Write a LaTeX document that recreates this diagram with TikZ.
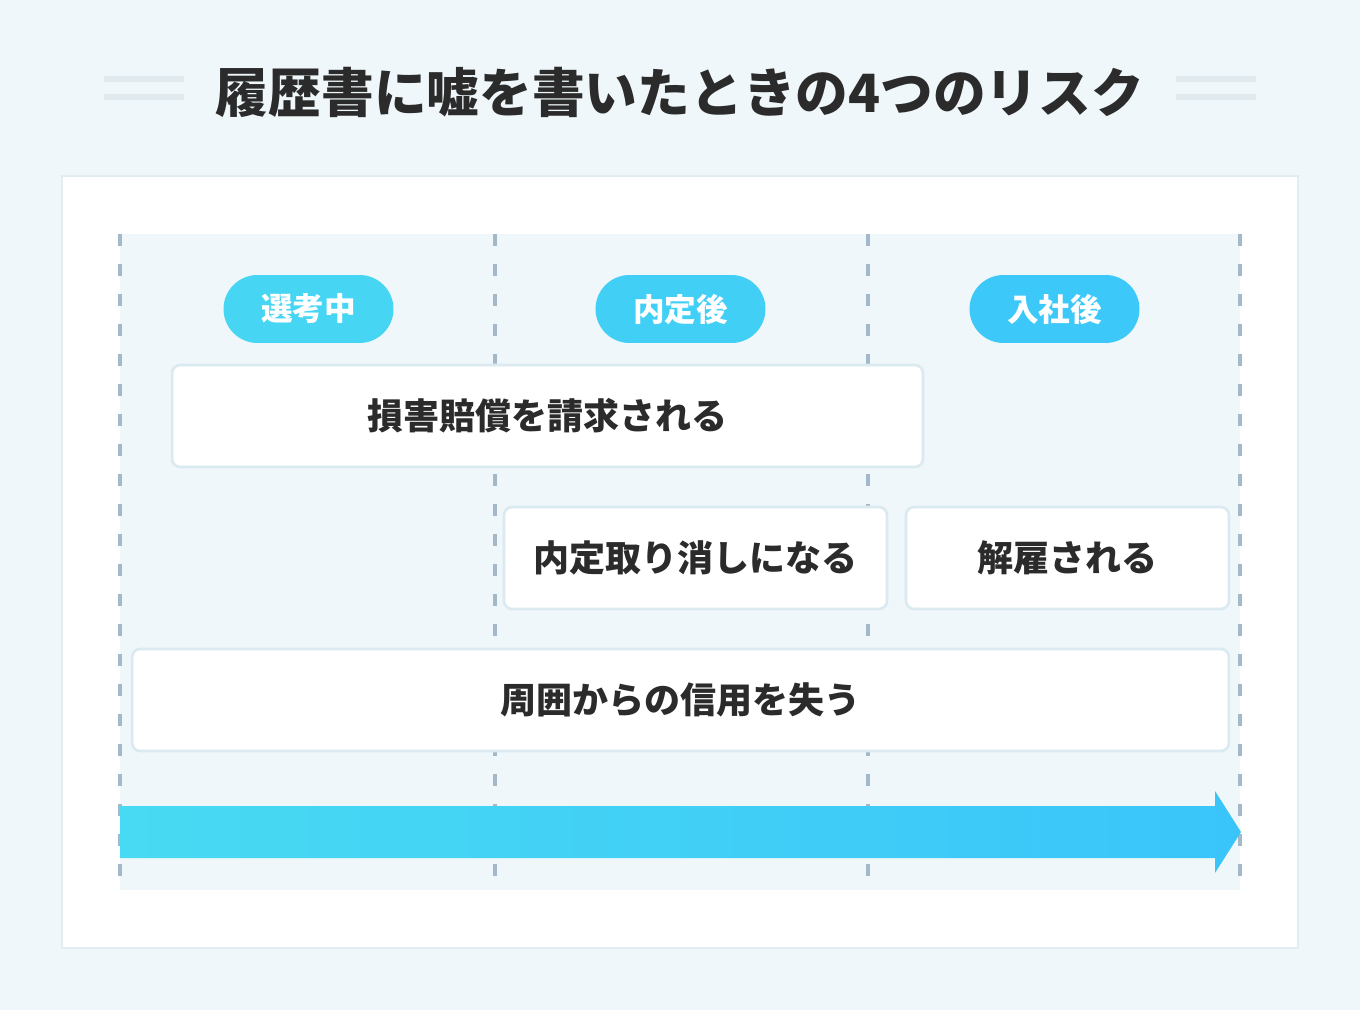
\documentclass[tikz,border=0pt]{standalone}
\usepackage{fontspec}
\newfontfamily\jpfont{Noto Sans CJK JP}
\definecolor{pagebg}{HTML}{EFF7FA}
\definecolor{panelline}{HTML}{E2EDF2}
\definecolor{boxline}{HTML}{DAEAF0}
\definecolor{dashline}{HTML}{A3B8C8}
\definecolor{decoline}{HTML}{E0E9EE}
\definecolor{inktext}{HTML}{2B2B2B}
\definecolor{arrowL}{HTML}{48DAF2}
\definecolor{arrowR}{HTML}{3AC5FA}
\colorlet{pillA}{arrowR!17!arrowL}
\colorlet{pillB}{arrowR!50!arrowL}
\colorlet{pillC}{arrowR!83!arrowL}

\begin{document}
\begin{tikzpicture}[x=0.02cm, y=-0.02cm,
    every node/.style={font=\jpfont\bfseries, text=inktext},
    phase/.style={rounded corners=0.68cm, minimum width=3.4cm, minimum height=1.36cm,
        font=\jpfont\bfseries\fontsize{18pt}{20pt}\selectfont, text=white},
    risk/.style={draw=boxline, line width=1.5pt, fill=white, rounded corners=0.16cm,
        minimum height=2.04cm, font=\jpfont\bfseries\fontsize{20.5pt}{22pt}\selectfont},
    deco/.style={decoline, line width=3pt},
    period/.style={dashline, line width=2pt, dash pattern=on 0.24cm off 0.36cm}]
    \useasboundingbox (0,0) rectangle (1360,1010);

    % Fundo
    \fill[pagebg] (0,0) rectangle (1360,1010);

    % Titulo
    \node (title) at (680,92) {\fontsize{30pt}{34pt}\selectfont 履歴書に嘘を書いたときの4つのリスク};
    \draw[deco] (104,79) -- (184,79) (104,97) -- (184,97);
    \draw[deco] (1176,79) -- (1256,79) (1176,97) -- (1256,97);

    % Painel
    \draw[panelline, line width=1.5pt, fill=white] (62,176) rectangle (1298,948);
    \fill[pagebg] (120,234) rectangle (1240,890);

    % Divisoes de tempo
    \foreach \x in {120,495,868,1240}
        \draw[period] (\x,234) -- (\x,878);

    % Fases
    \node[phase, fill=pillA] (pillSenko) at (308.5,309) {選考中};
    \node[phase, fill=pillB] (pillNaitei) at (680.5,309) {内定後};
    \node[phase, fill=pillC] (pillNyusha) at (1054.5,309) {入社後};

    % Riscos
    \node[risk, minimum width=15.02cm] (boxSongai) at (547.5,416) {損害賠償を請求される};
    \node[risk, minimum width=7.66cm] (boxTorikeshi) at (695.5,558) {内定取り消しになる};
    \node[risk, minimum width=6.46cm] (boxKaiko) at (1067.5,558) {解雇される};
    \node[risk, minimum width=21.94cm] (boxShinyo) at (680.5,700) {周囲からの信用を失う};

    % Seta do tempo
    \shade[left color=arrowL, right color=arrowR]
        (120,806) -- (1215,806) -- (1215,791) -- (1241,832) -- (1215,873) -- (1215,858) -- (120,858) -- cycle;
\end{tikzpicture}
\end{document}
